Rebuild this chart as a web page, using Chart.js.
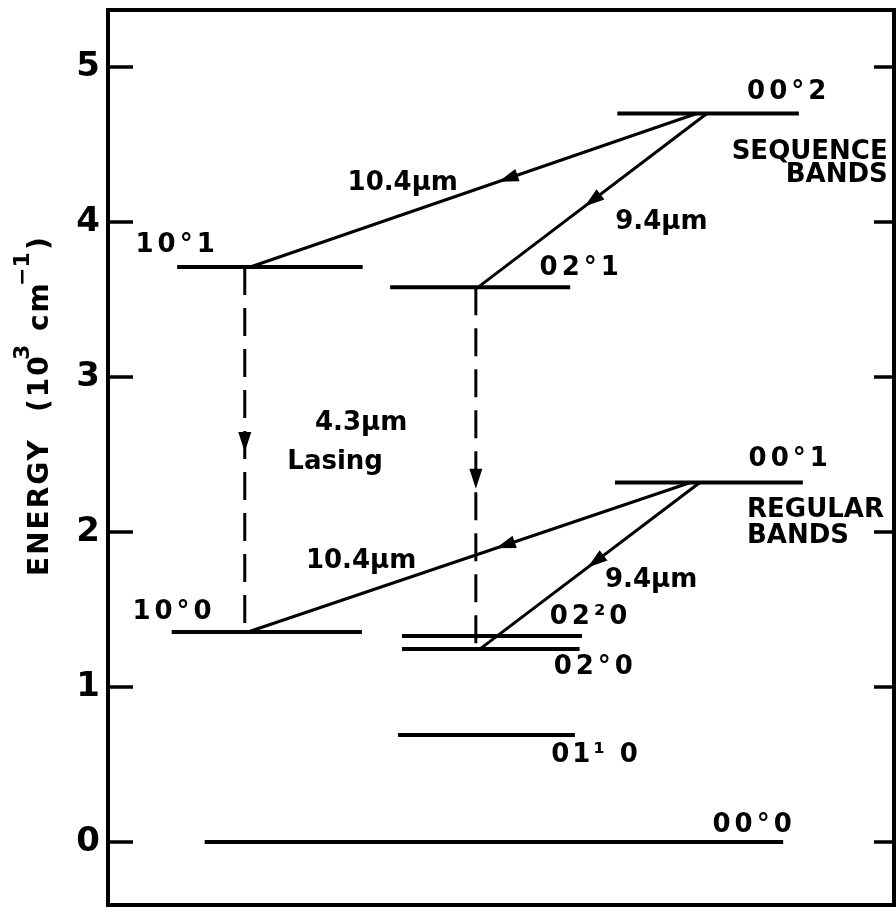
<!DOCTYPE html>
<html><head><meta charset="utf-8">
<script src="https://cdn.jsdelivr.net/npm/chart.js@4.4.1/dist/chart.umd.min.js"></script>
<style>html,body{margin:0;padding:0;background:#fff}#wrap{width:896px;height:917px}</style>
</head><body><div id="wrap"><canvas id="c" width="896" height="917"></canvas></div>
<script>
// ---- data (energies in 10^3 cm^-1; horizontal placement in arbitrary diagram units 0-100) ----
const levelNames   = ['00°0','01¹0','02°0','02²0','10°0','00°1','02°1','10°1','00°2'];
const levelEnergy  = [0, 0.69, 1.245, 1.33, 1.355, 2.32, 3.58, 3.71, 4.70];
const levelStartX  = [12.3, 36.9, 37.4, 37.4, 8.1, 64.5, 35.9, 8.8, 64.8];
const levelEndX    = [85.9, 59.4, 60.0, 60.3, 32.3, 88.4, 58.8, 32.4, 87.9];

const transitionFrom  = ['00°2','00°2','10°1','02°1','00°1','00°1'];
const transitionTo    = ['10°1','02°1','10°0','02°0','10°0','02°0'];
const transitionFromX = [74.9, 76.2, 17.4, 46.8, 74.1, 75.3];
const transitionToX   = [18.1, 47.1, 17.4, 46.8, 17.8, 47.3];
const transitionWave  = ['10.4','9.4','4.3','4.3','10.4','9.4'];
const arrowFraction   = [0.444, 0.535, 0.507, 0.557, 0.44, 0.51];

const yTickValues = [0, 1, 2, 3, 4, 5];
const yTickLabels = ['0', '1', '2', '3', '4', '5'];
const yAxisTitle  = ['ENERGY', '(10', '3', 'cm', '−1', ')'];

// ---- annotation texts (label, anchor in data units) ----
const notes = [
  {t:'00°2', x:86.6, y:4.84, a:'center', ls:4},
  {t:'00°1', x:86.8, y:2.47, a:'center', ls:4},
  {t:'10°1', x:8.8,  y:3.85, a:'center', ls:4},
  {t:'02°1', x:60.2, y:3.70, a:'center', ls:4},
  {t:'10°0', x:8.4,  y:1.48, a:'center', ls:4},
  {t:'02²0', x:61.4, y:1.45, a:'center', ls:4},
  {t:'02°0', x:62.0, y:1.13, a:'center', ls:4},
  {t:'01¹ 0', x:62.1, y:0.56, a:'center', ls:3},
  {t:'00°0', x:82.2, y:0.11, a:'center', ls:4},
  {t:'10.4μm', x:37.5, y:4.25, a:'center', ls:0},
  {t:'9.4μm',  x:70.4, y:4.00, a:'center', ls:0},
  {t:'4.3μm',  x:32.2, y:2.70, a:'center', ls:0},
  {t:'Lasing', x:28.9, y:2.45, a:'center', ls:0},
  {t:'10.4μm', x:32.2, y:1.81, a:'center', ls:0},
  {t:'9.4μm',  x:69.1, y:1.69, a:'center', ls:0},
  {t:'SEQUENCE', x:99.2, y:4.45, a:'right', ls:0},
  {t:'BANDS',    x:99.2, y:4.30, a:'right', ls:0},
  {t:'REGULAR',  x:81.3, y:2.14, a:'left', ls:0},
  {t:'BANDS',    x:81.3, y:1.97, a:'left', ls:0}
];

const energyOf = n => levelEnergy[levelNames.indexOf(n)];

const datasets = [];
levelNames.forEach((n, i) => {
  datasets.push({
    label: n,
    data: [{x: levelStartX[i], y: levelEnergy[i]}, {x: levelEndX[i], y: levelEnergy[i]}],
    showLine: true, borderColor: '#000', borderWidth: 4, pointRadius: 0, borderCapStyle: 'butt'
  });
});
transitionFrom.forEach((f, i) => {
  const dashed = transitionWave[i] === '4.3';
  datasets.push({
    label: f + '→' + transitionTo[i],
    data: [{x: transitionFromX[i], y: energyOf(f)}, {x: transitionToX[i], y: energyOf(transitionTo[i])}],
    showLine: true, borderColor: '#000', borderWidth: 3, pointRadius: 0,
    borderDash: dashed ? [28, 13] : []
  });
});

const FONT = '"DejaVu Sans", sans-serif';

const diagramPlugin = {
  id: 'diagram',
  afterDatasetsDraw(chart) {
    const {ctx, chartArea: ca, scales: {x, y}} = chart;
    ctx.save();
    // frame
    ctx.strokeStyle = '#000';
    ctx.lineWidth = 4;
    ctx.strokeRect(ca.left, ca.top, ca.right - ca.left, ca.bottom - ca.top);
    // inside ticks on both sides
    ctx.lineWidth = 3.5;
    yTickValues.forEach(v => {
      const py = y.getPixelForValue(v);
      ctx.beginPath();
      ctx.moveTo(ca.left, py); ctx.lineTo(ca.left + 25, py);
      ctx.moveTo(ca.right - 20, py); ctx.lineTo(ca.right, py);
      ctx.stroke();
    });
    // arrowheads
    ctx.fillStyle = '#000';
    transitionFrom.forEach((f, i) => {
      const x0 = x.getPixelForValue(transitionFromX[i]), y0 = y.getPixelForValue(energyOf(f));
      const x1 = x.getPixelForValue(transitionToX[i]), y1 = y.getPixelForValue(energyOf(transitionTo[i]));
      const t = arrowFraction[i];
      const px = x0 + (x1 - x0) * t, py = y0 + (y1 - y0) * t;
      const len = Math.hypot(x1 - x0, y1 - y0);
      const dx = (x1 - x0) / len, dy = (y1 - y0) / len;
      const L = 20, W = 6.5;
      ctx.beginPath();
      ctx.moveTo(px, py);
      ctx.lineTo(px - dx * L - dy * W, py - dy * L + dx * W);
      ctx.lineTo(px - dx * L + dy * W, py - dy * L - dx * W);
      ctx.closePath();
      ctx.fill();
    });
    // texts
    ctx.font = 'bold 26px ' + FONT;
    ctx.textBaseline = 'middle';
    notes.forEach(n => {
      ctx.letterSpacing = n.ls + 'px';
      ctx.textAlign = n.a;
      ctx.fillText(n.t, x.getPixelForValue(n.x), y.getPixelForValue(n.y));
    });
    ctx.letterSpacing = '0px';
    // rotated axis title
    ctx.translate(48, 576);
    ctx.rotate(-Math.PI / 2);
    ctx.textAlign = 'left';
    ctx.textBaseline = 'alphabetic';
    const segs = [
      {t: yAxisTitle[0], o: 0,   sup: false},
      {t: yAxisTitle[1], o: 164, sup: false},
      {t: yAxisTitle[2], o: 216, sup: true},
      {t: yAxisTitle[3], o: 245, sup: false},
      {t: yAxisTitle[4], o: 290, sup: true},
      {t: yAxisTitle[5], o: 326, sup: false}
    ];
    segs.forEach(s => {
      if (s.sup) {
        ctx.font = 'bold 22px ' + FONT;
        ctx.fillText(s.t, s.o, -19);
      } else {
        ctx.font = 'bold 28px ' + FONT;
        ctx.letterSpacing = '2px';
        ctx.fillText(s.t, s.o, 0);
        ctx.letterSpacing = '0px';
      }
    });
    ctx.restore();
  }
};

new Chart(document.getElementById('c'), {
  type: 'scatter',
  data: {datasets},
  options: {
    responsive: false, animation: false, devicePixelRatio: 1,
    layout: {padding: {top: 10, bottom: 12, right: 2, left: 0}},
    plugins: {legend: {display: false}, tooltip: {enabled: false}},
    scales: {
      x: {type: 'linear', min: 0, max: 100, display: false},
      y: {
        type: 'linear', min: -0.406, max: 5.368,
        afterBuildTicks: s => { s.ticks = yTickValues.map(v => ({value: v})); },
        afterFit: s => { s.width = 108; s.paddingTop = 0; s.paddingBottom = 0; },
        grid: {display: false, drawTicks: false},
        border: {display: false},
        ticks: {
          color: '#000', padding: 8,
          font: {family: FONT, size: 34, weight: 'bold'},
          callback: v => yTickLabels[yTickValues.indexOf(v)]
        }
      }
    }
  },
  plugins: [diagramPlugin]
});
</script></body></html>
